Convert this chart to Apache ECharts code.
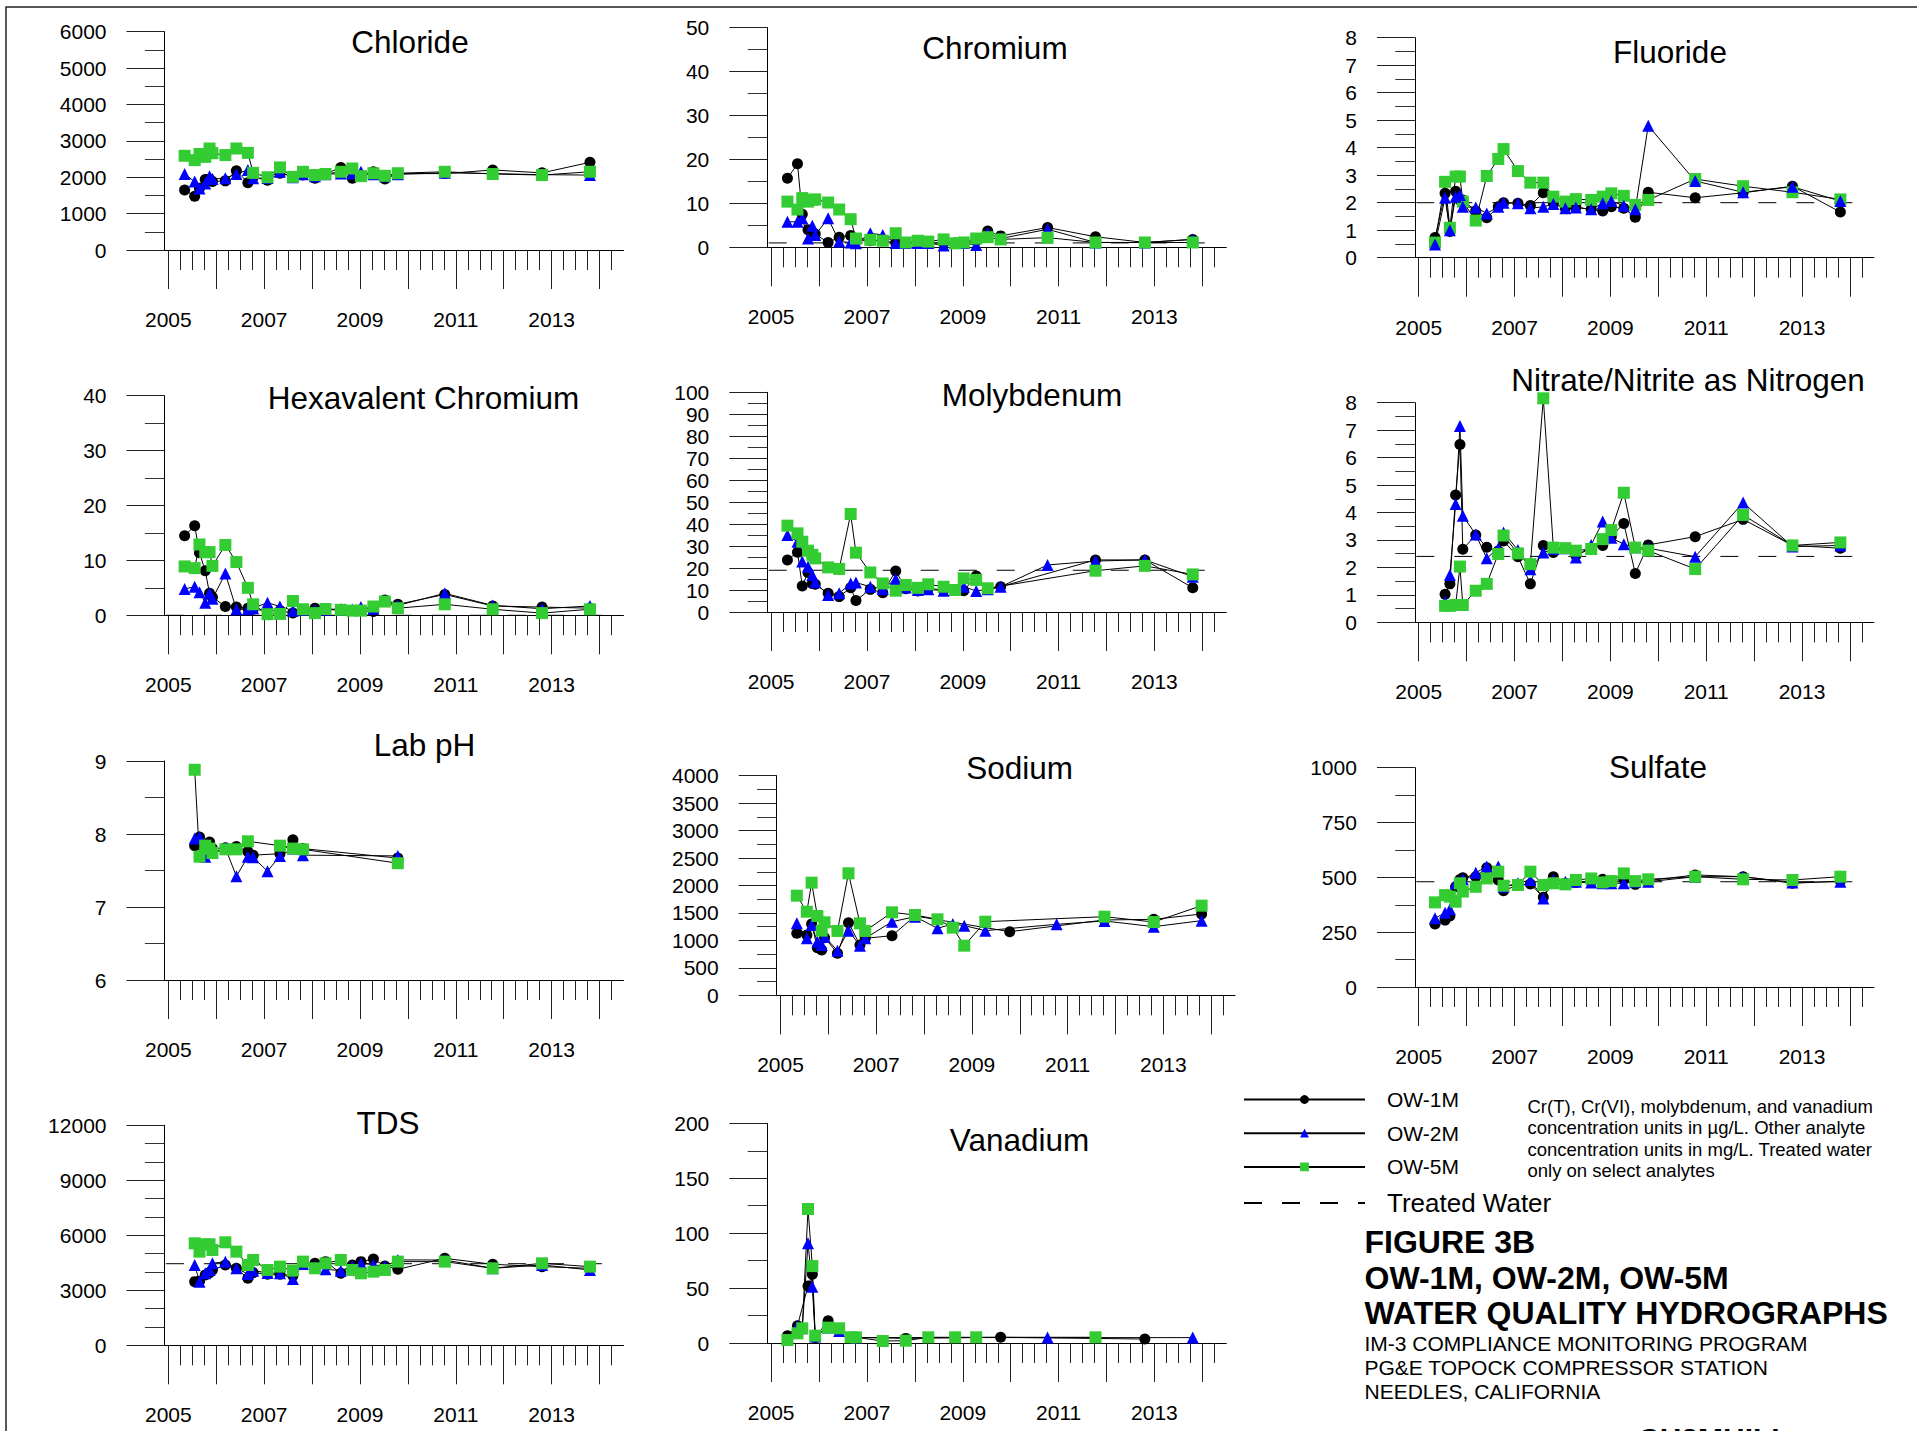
<!DOCTYPE html>
<html>
<head>
<meta charset="utf-8">
<title>Figure 3B - Water Quality Hydrographs</title>
<script src="https://cdn.jsdelivr.net/npm/echarts@6/dist/echarts.min.js"></script>
<style>
  html, body { margin: 0; padding: 0; background: #fff; }
  #chart { width: 1917px; height: 1431px; }
</style>
</head>
<body>
<div id="chart"></div>
<script>
// sampling events (decimal years), shared by the three wells
const dates = [2005.34, 2005.55, 2005.65, 2005.77, 2005.86, 2005.92, 2006.19, 2006.42, 2006.66, 2006.77,
  2007.07, 2007.33, 2007.6, 2007.81, 2008.06, 2008.28, 2008.6, 2008.84, 2009.02, 2009.28,
  2009.52, 2009.79, 2010.77, 2011.77, 2012.8, 2013.8]

// x axis ticks / labels
const yearTicks = [2005, 2006, 2007, 2008, 2009, 2010, 2011, 2012, 2013, 2014]
const yearLabels = [2005, 2007, 2009, 2011, 2013]
const quarterTicks = [2005.25, 2005.5, 2005.75, 2006.25, 2006.5, 2006.75, 2007.25, 2007.5, 2007.75,
  2008.25, 2008.5, 2008.75, 2009.25, 2009.5, 2009.75, 2010.25, 2010.5, 2010.75, 2011.25, 2011.5, 2011.75,
  2012.25, 2012.5, 2012.75, 2013.25, 2013.5, 2013.75, 2014.25]

// Chloride (mg/L)
const chlorideOW1 = [1650, 1480, 1700, 1940, 1950, 1880, 1900, 2180, 1850, 2000, 1920, 2110, 2020, 2060, 1970, 2090, 2270, 1970, 2050, 2150, 1950, 2100, 2100, 2200, 2120, 2410]
const chlorideOW2 = [2090, 1880, 1690, 1830, 2030, 1950, 1970, 2090, 2200, 1970, 1980, 2150, 2000, 2080, 2030, 2080, 2100, 2100, 2150, 2080, 2030, 2080, 2120, 2100, 2070, 2060]
const chlorideOW5 = [2590, 2470, 2640, 2560, 2790, 2660, 2610, 2790, 2670, 2120, 2000, 2270, 2010, 2150, 2060, 2090, 2150, 2240, 2030, 2110, 2040, 2110, 2150, 2090, 2060, 2150]

// Chromium (ug/L)
const chromiumOW1 = [15.7, 19, 7.5, 4, 3.4, 3, 1.1, 2.3, 2.7, 1.5, 1.5, 1.5, 1, 1, 1, 1, 1, 1, 1, 1.5, 3.7, 2.6, 4.5, 2.4, 1.1, 1.8]
const chromiumOW2 = [5.8, 5.8, 6.6, 2, 4.9, 2.8, 6.6, 1.3, 1.1, 0.9, 3.2, 2.8, 1, 1, 1, 1, 0.4, 1, 1, 0.5, 3.2, 2, 4.1, 1.1, 1.1, 1.8]
const chromiumOW5 = [10.4, 8.6, 11.2, 10.4, 10.8, 10.9, 10.2, 8.6, 6.4, 2, 1.7, 1.5, 3.2, 1.1, 1.5, 1.3, 1.8, 0.9, 1.1, 2, 2.3, 1.8, 2.2, 1.1, 1.1, 1.1]

// Fluoride (mg/L)
const fluorideOW1 = [0.73, 2.34, 0.95, 2.42, 2.1, 2.1, 1.7, 1.45, 1.85, 2.0, 1.98, 1.9, 2.36, 1.98, 1.8, 1.83, 1.76, 1.7, 1.85, 1.8, 1.47, 2.38, 2.18, 2.36, 2.6, 1.66]
const fluorideOW2 = [0.48, 2.18, 1.0, 2.22, 2.28, 1.85, 1.83, 1.61, 1.85, 2.0, 1.98, 1.8, 1.85, 1.95, 1.8, 1.83, 1.76, 1.98, 2.06, 1.89, 1.76, 4.8, 2.79, 2.38, 2.58, 2.06]
const fluorideOW5 = [0.55, 2.76, 1.09, 2.95, 2.95, 2.04, 1.35, 2.97, 3.59, 3.95, 3.15, 2.73, 2.73, 2.22, 2.04, 2.13, 2.1, 2.22, 2.34, 2.25, 1.92, 2.1, 2.86, 2.6, 2.38, 2.12]

// Hexavalent chromium (ug/L)
const hexCrOW1 = [14.5, 16.3, 11.4, 8.1, 4.0, 3.3, 1.6, 1.5, 1.3, 1.1, 0.85, 0.85, 0.4, 1.0, 1.3, 1.1, 1.1, 0.9, 0.9, 0.7, 2.8, 2.0, 3.8, 1.7, 1.5, 1.3]
const hexCrOW2 = [4.8, 5.2, 4.2, 2.3, 4.0, 3.0, 7.6, 1.1, 1.1, 1.3, 2.3, 1.6, 0.85, 1.0, 1.0, 1.0, 1.0, 1.0, 1.5, 1.2, 2.6, 1.8, 4.0, 1.8, 1.2, 1.7]
const hexCrOW5 = [8.9, 8.6, 12.9, 11.5, 11.5, 9.0, 12.8, 9.7, 5.0, 2.0, 0.2, 0.25, 2.6, 1.1, 0.4, 1.15, 1.0, 0.85, 0.85, 1.6, 2.5, 1.3, 2.0, 1.1, 0.4, 1.1]

// Molybdenum (ug/L)
const molyOW1 = [23.7, 27.2, 11.8, 18, 13, 12.6, 8.5, 7, 11, 5.2, 10.3, 8.8, 18.7, 10.6, 9.6, 10.8, 10, 10, 9.7, 16.4, 10.3, 11.5, null, 23.7, 23.7, 11]
const molyOW2 = [35, 32, 23, 20.6, 16.8, 13.5, 7.7, 8.5, 13, 13.4, 11.5, 10.5, 15, 11.2, 10, 10.3, 9.7, 10, 11.5, 9.6, 10.3, 11.5, 21.4, 23.2, 23.7, 16.1]
const molyOW5 = [39.3, 35.8, 32, 27.9, 26, 24.4, 20.3, 19.6, 44.6, 27, 18, 13, 9.7, 12.3, 11, 12.6, 11.5, 10, 15.3, 14.6, 10.8, null, null, 18.8, 21, 17.1]

// Nitrate/nitrite as nitrogen (mg/L)
const nitrateOW1 = [null, 1.02, 1.4, 4.64, 6.48, 2.66, 3.18, 2.73, 2.6, 2.96, 2.39, 1.4, 2.8, 2.54, 2.7, 2.43, 2.7, 2.8, 3.12, 3.6, 1.78, 2.82, 3.12, 3.75, 2.8, 2.7]
const nitrateOW2 = [null, 0.75, 1.72, 4.31, 7.15, 3.88, 3.2, 2.33, 2.7, 3.27, 2.63, 1.93, 2.54, 2.67, 2.7, 2.36, 2.82, 3.67, 3.08, 2.84, 2.73, 2.7, 2.39, 4.36, 2.76, 2.8]
const nitrateOW5 = [null, 0.6, 0.6, 0.63, 2.03, 0.63, 1.15, 1.4, 2.49, 3.16, 2.51, 2.12, 8.16, 2.72, 2.7, 2.61, 2.67, 3.03, 3.36, 4.72, 2.72, 2.61, 1.94, 3.91, 2.8, 2.91]

// Lab pH
const phOW1 = [null, 7.84, 7.96, 7.85, 7.89, 7.8, 7.81, 7.83, 7.76, 7.71, null, 7.73, 7.92, 7.8, null, null, null, null, null, null, null, 7.67, null, null, null, null]
const phOW2 = [null, 7.94, 7.96, 7.69, 7.75, 7.74, 7.81, 7.42, 7.69, 7.68, 7.49, 7.7, 7.8, 7.71, null, null, null, null, null, null, null, 7.7, null, null, null, null]
const phOW5 = [null, 8.88, 7.69, 7.84, 7.8, 7.74, 7.79, 7.79, 7.9, null, null, 7.84, 7.8, 7.79, null, null, null, null, null, null, null, 7.6, null, null, null, null]

// Sodium (mg/L)
const sodiumOW1 = [1129, 1099, 1299, 868, 825, 1050, 765, 1323, 917, 1038, null, 1086, null, 1445, null, null, null, null, null, null, null, 1159, null, 1372, 1384, 1481]
const sodiumOW2 = [1311, 1038, 1281, 977, 917, 1068, 813, 1178, 904, 1038, null, 1341, null, 1432, null, 1220, 1299, 1269, null, 1178, null, null, 1293, 1354, 1250, 1360]
const sodiumOW5 = [1815, 1523, 2052, 1445, 1178, 1329, 1172, 2222, 1311, 1172, null, 1511, null, 1463, null, 1384, 1232, 904, null, 1341, null, null, null, 1432, 1335, 1633]

// Sulfate (mg/L)
const sulfateOW1 = [287, 305, 324, 457, 490, 498, 503, 544, 488, 439, 465, 470, 409, 503, 473, 476, 480, 491, 485, 491, 468, 485, 511, 503, 473, 483]
const sulfateOW2 = [313, 339, 354, 473, 480, 491, 521, 549, 549, 457, 473, 488, 404, 488, 480, 480, 477, 473, 473, 473, 480, 480, 503, 503, 477, 480]
const sulfateOW5 = [386, 419, 412, 389, 473, 435, 457, 495, 526, 462, 465, 526, 465, 473, 468, 488, 495, 477, 483, 518, 483, 491, 503, 491, 488, 503]

// TDS (mg/L)
const tdsOW1 = [null, 3473, 3500, 3836, 3964, 4109, 4382, 4200, 3655, 3964, 3873, 3873, 3800, 4418, 4473, 4564, 3927, 4382, 4564, 4709, 4327, 4145, 4745, 4418, 4291, 4200]
const tdsOW2 = [null, 4382, 3473, 3927, 4109, 4473, 4564, 4200, 3891, 4073, 3950, 3927, 3618, 4436, 4300, 4145, 4073, 4300, 4473, 4400, 4300, 4655, 4655, 4200, 4382, 4109]
const tdsOW5 = [null, 5564, 5109, 5509, 5509, 5200, 5618, 5109, 4382, 4655, 4109, 4291, 4073, 4564, 4200, 4473, 4655, 4109, 3927, 4018, 4109, 4564, 4564, 4200, 4473, 4291]

// Vanadium (ug/L)
const vanadiumOW1 = [6.7, 15.8, null, 52, 62.5, 4.9, 20.3, 12, null, 5, null, null, null, 4.2, null, null, null, null, null, null, null, 5.2, null, null, 3.6, null]
const vanadiumOW2 = [null, 15.5, 13.4, 90.7, 51.3, 6, 14, 11, null, 5, null, null, null, null, null, null, null, null, null, null, null, null, 4.9, null, null, 4.9]
const vanadiumOW5 = [2.7, 8.8, 13.4, 122, 70, 6.7, 14, 13.4, 5.2, 5.2, null, 1.8, null, 2.1, null, 5.2, null, 5.2, null, 5.2, null, null, null, 5.2, null, null]

// treated water levels (only on select analytes)
const treatedLevels = { chromium: 1, fluoride: 2, hexCr: 0, moly: 19, nitrate: 2.4, sulfate: 480, tds: 4450 }

const FONT = '"Liberation Sans", Arial, Helvetica, sans-serif'
const X_MIN = 2004.92
const X_MAX = 2014.5

const wells = [
  { name: 'OW-1M', symbol: 'circle', size: 11, color: '#000000' },
  { name: 'OW-2M', symbol: 'triangle', size: 12, color: '#0000ff' },
  { name: 'OW-5M', symbol: 'rect', size: 12, color: '#33cc33' }
]

// panel layout: plot box in px, y scale, title anchor
const panels = [
  { title: 'Chloride', tx: 410, ty: 42, left: 164.5, top: 31.7, width: 459, height: 218.3, max: 6000, step: 1000, split: 2, data: [chlorideOW1, chlorideOW2, chlorideOW5] },
  { title: 'Chromium', tx: 995, ty: 48, left: 767.3, top: 27.7, width: 459, height: 219.6, max: 50, step: 10, split: 2, data: [chromiumOW1, chromiumOW2, chromiumOW5], treated: treatedLevels.chromium },
  { title: 'Fluoride', tx: 1670, ty: 52, left: 1414.9, top: 37.7, width: 459, height: 220, max: 8, step: 1, split: 2, data: [fluorideOW1, fluorideOW2, fluorideOW5], treated: treatedLevels.fluoride, order: [0, 2, 1] },
  { title: 'Hexavalent Chromium', tx: 423.5, ty: 398, left: 164.5, top: 395.7, width: 459, height: 219.6, max: 40, step: 10, split: 2, data: [hexCrOW1, hexCrOW2, hexCrOW5], treated: treatedLevels.hexCr },
  { title: 'Molybdenum', tx: 1032, ty: 395, left: 767.3, top: 392.3, width: 459, height: 219.7, max: 100, step: 10, split: 2, data: [molyOW1, molyOW2, molyOW5], treated: treatedLevels.moly },
  { title: 'Nitrate/Nitrite as Nitrogen', tx: 1688, ty: 380, left: 1414.9, top: 402.7, width: 459, height: 219.6, max: 8, step: 1, split: 2, data: [nitrateOW1, nitrateOW2, nitrateOW5], treated: treatedLevels.nitrate },
  { title: 'Lab pH', tx: 424.5, ty: 745, left: 164.5, top: 761, width: 459, height: 219, min: 6, max: 9, step: 1, split: 2, data: [phOW1, phOW2, phOW5] },
  { title: 'Sodium', tx: 1019.6, ty: 768, left: 776.7, top: 775.7, width: 458.4, height: 219.6, max: 4000, step: 500, split: 2, data: [sodiumOW1, sodiumOW2, sodiumOW5] },
  { title: 'Sulfate', tx: 1658, ty: 767, left: 1414.9, top: 767.7, width: 459, height: 219.3, max: 1000, step: 250, split: 2, data: [sulfateOW1, sulfateOW2, sulfateOW5], treated: treatedLevels.sulfate },
  { title: 'TDS', tx: 388, ty: 1123, left: 164.5, top: 1125.3, width: 459, height: 220, max: 12000, step: 3000, split: 3, data: [tdsOW1, tdsOW2, tdsOW5], treated: treatedLevels.tds },
  { title: 'Vanadium', tx: 1019.6, ty: 1140, left: 767.3, top: 1123.3, width: 459, height: 219.7, max: 200, step: 50, split: 2, data: [vanadiumOW1, vanadiumOW2, vanadiumOW5] }
]

/**
 * pair the shared dates with one well's values, dropping missing samples
 * @param {Array<number|null>} vals
 */
const toPoints = (vals) => dates.map((d, i) => [d, vals[i]]).filter(p => p[1] !== null)

const grid = []
const xAxis = []
const yAxis = []
const series = []
const graphic = []

panels.forEach((p, i) => {
  grid.push({ left: p.left, top: p.top, width: p.width, height: p.height, containLabel: false, outerBoundsMode: 'none' })

  // main x axis: yearly long ticks + labels every other year
  xAxis.push({
    gridIndex: i, type: 'value', min: X_MIN, max: X_MAX, position: 'bottom',
    axisLine: { show: true, onZero: false, lineStyle: { color: '#000', width: 1 } },
    axisTick: { show: true, inside: false, length: 39, customValues: yearTicks, lineStyle: { color: '#222', width: 1 } },
    axisLabel: { show: true, margin: 59, customValues: yearLabels, fontFamily: FONT, fontSize: 21, color: '#000', formatter: v => String(v) },
    splitLine: { show: false }, minorTick: { show: false }
  })
  // second x axis only for the short quarterly ticks
  xAxis.push({
    gridIndex: i, type: 'value', min: X_MIN, max: X_MAX, position: 'bottom',
    axisLine: { show: false, onZero: false },
    axisTick: { show: true, inside: false, length: 20, customValues: quarterTicks, lineStyle: { color: '#222', width: 1 } },
    axisLabel: { show: false }, splitLine: { show: false }
  })

  yAxis.push({
    gridIndex: i, type: 'value', min: p.min || 0, max: p.max, interval: p.step, position: 'left',
    axisLine: { show: true, onZero: false, lineStyle: { color: '#000', width: 1 } },
    axisTick: { show: true, inside: false, length: 38, lineStyle: { color: '#222', width: 1 } },
    minorTick: { show: true, splitNumber: p.split, length: 19.6, lineStyle: { color: '#333', width: 1 } },
    axisLabel: { margin: 58, fontFamily: FONT, fontSize: 21, color: '#000', formatter: v => String(v) },
    splitLine: { show: false }, minorSplitLine: { show: false }
  })

  // treated water reference, drawn under the wells
  if (p.treated !== undefined) {
    series.push({
      type: 'line', name: 'Treated Water', xAxisIndex: i * 2, yAxisIndex: i,
      data: [[X_MIN + 0.03, p.treated], [2014.2, p.treated]],
      symbol: 'none', silent: true,
      lineStyle: { color: '#000', width: 1, type: [18, 20] },
      itemStyle: { color: 'rgba(0,0,0,0)' }
    })
  }

  const order = p.order || [0, 1, 2]
  order.forEach(w => {
    const well = wells[w]
    series.push({
      type: 'line', name: well.name, xAxisIndex: i * 2, yAxisIndex: i,
      data: toPoints(p.data[w]),
      symbol: well.symbol, symbolSize: well.size, showSymbol: true, connectNulls: true,
      clip: false, // nitrate peak sits just above the axis top
      itemStyle: { color: well.color, borderWidth: 0 },
      lineStyle: { color: '#000', width: 1 },
      emphasis: { disabled: true }
    })
  })

  graphic.push({
    type: 'text', x: p.tx, y: p.ty, silent: true,
    style: { text: p.title, fontFamily: FONT, fontSize: 31.5, fill: '#000', align: 'center', verticalAlign: 'middle' }
  })
})

// page frame (only top and left edges fall inside the picture)
graphic.push({ type: 'rect', shape: { x: 6, y: 7, width: 2000, height: 2000 }, style: { fill: 'none', stroke: '#222', lineWidth: 1.5 }, silent: true })

// unit note next to the legend
graphic.push({
  type: 'text', x: 1527.5, y: 1096, silent: true,
  style: {
    text: 'Cr(T), Cr(VI), molybdenum, and vanadium\nconcentration units in \u00b5g/L. Other analyte\nconcentration units in mg/L. Treated water\nonly on select analytes',
    fontFamily: FONT, fontSize: 18.5, lineHeight: 21.3, fill: '#000', align: 'left', verticalAlign: 'top'
  }
})

// figure title block
const titleLines = [
  { text: 'FIGURE 3B', y: 1242, size: 32, weight: 'bold' },
  { text: 'OW-1M, OW-2M, OW-5M', y: 1278, size: 32, weight: 'bold' },
  { text: 'WATER QUALITY HYDROGRAPHS', y: 1313, size: 32, weight: 'bold' },
  { text: 'IM-3 COMPLIANCE MONITORING PROGRAM', y: 1343, size: 21, weight: 'normal' },
  { text: 'PG&E TOPOCK COMPRESSOR STATION', y: 1367, size: 21, weight: 'normal' },
  { text: 'NEEDLES, CALIFORNIA', y: 1391, size: 21, weight: 'normal' }
]
titleLines.forEach(t => {
  graphic.push({
    type: 'text', x: 1364.5, y: t.y, silent: true,
    style: { text: t.text, fontFamily: FONT, fontSize: t.size, fontWeight: t.weight, fill: '#000', align: 'left', verticalAlign: 'middle' }
  })
})
// logo, cut off by the bottom edge as in the source sheet
graphic.push({
  type: 'text', x: 1638, y: 1423, silent: true,
  style: { text: 'CH2MHILL', fontFamily: FONT, fontSize: 30, fontWeight: 'bold', fill: '#000', align: 'left', verticalAlign: 'top' }
})

const option = {
  animation: false,
  backgroundColor: '#ffffff',
  textStyle: { fontFamily: FONT },
  grid, xAxis, yAxis, series, graphic,
  legend: {
    orient: 'vertical', left: 1243, top: 1089, padding: 0,
    itemWidth: 121, itemHeight: 11, itemGap: 12.7, selectedMode: false,
    textStyle: { fontFamily: FONT, fontSize: 21, color: '#000', padding: [0, 0, 0, 17] },
    data: ['OW-1M', 'OW-2M', 'OW-5M', { name: 'Treated Water', textStyle: { fontSize: 26 } }]
  }
}

const chart = echarts.init(document.getElementById('chart'), null, { renderer: 'svg' })
chart.setOption(option)
</script>
</body>
</html>
